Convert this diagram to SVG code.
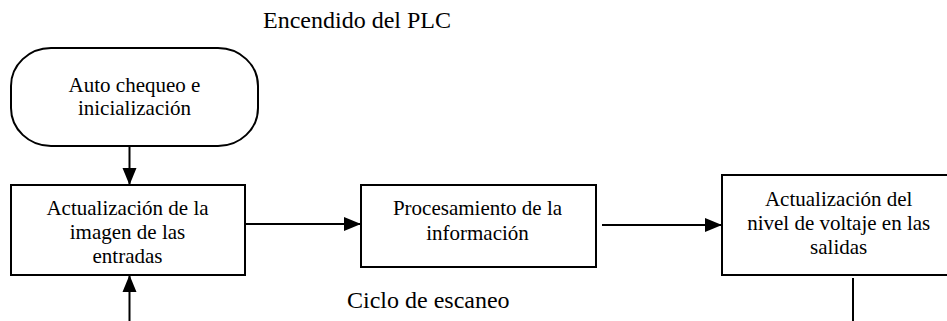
<svg xmlns="http://www.w3.org/2000/svg" width="947" height="321" viewBox="0 0 947 321">
<defs>
<style>
.box{fill:#fff;stroke:#000;stroke-width:2}
.lbl{font-family:"Liberation Serif","Times New Roman",serif;font-size:24px;fill:#000}
svg g#n1 text.nt, svg g#n2 text.nt, svg g#n3 text.nt, svg g#n4 text.nt, .nt{font-family:"Liberation Serif","Times New Roman",serif !important;font-size:21px !important;fill:#000;text-anchor:middle}
.c{fill:none;stroke:#000;stroke-width:2}
</style>
<marker id="ah" markerUnits="userSpaceOnUse" markerWidth="18" markerHeight="16" viewBox="0 0 18 16" refX="17" refY="8" orient="auto">
<path d="M0,1 L17,8 L0,15 Z" fill="#000"/>
</marker>
</defs>
<rect width="947" height="321" fill="#fff"/>
<text class="lbl" x="263" y="28">Encendido del PLC</text>
<text class="lbl" x="347" y="308">Ciclo de escaneo</text>
<g id="connectors">
<line class="c" x1="129.5" y1="146" x2="129.5" y2="185" marker-end="url(#ah)"/>
<line class="c" x1="245" y1="224" x2="361" y2="224" marker-end="url(#ah)"/>
<line class="c" x1="602" y1="225" x2="722" y2="225" marker-end="url(#ah)"/>
<line class="c" x1="853" y1="278" x2="853" y2="321"/>
<line class="c" x1="129.5" y1="321" x2="129.5" y2="275" marker-end="url(#ah)"/>
</g>
<g id="n1">
<rect class="box" x="11" y="48" width="247" height="98" rx="40" ry="38"/>
<text class="nt" x="134.5" y="91.7">Auto chequeo e</text>
<text class="nt" x="134.5" y="115">inicialización</text>
</g>
<g id="n2">
<rect class="box" x="11" y="185" width="234" height="90"/>
<text class="nt" x="127.5" y="215">Actualización de la</text>
<text class="nt" x="127.5" y="239">imagen de las</text>
<text class="nt" x="127.5" y="262.7">entradas</text>
</g>
<g id="n3">
<rect class="box" x="361" y="185" width="235" height="82"/>
<text class="nt" x="477.5" y="215">Procesamiento de la</text>
<text class="nt" x="477.5" y="240">información</text>
</g>
<g id="n4">
<rect class="box" x="722" y="175" width="234" height="100"/>
<text class="nt" x="838.7" y="205.7">Actualización del</text>
<text class="nt" x="838.7" y="230">nivel de voltaje en las</text>
<text class="nt" x="838.7" y="254">salidas</text>
</g>
</svg>
